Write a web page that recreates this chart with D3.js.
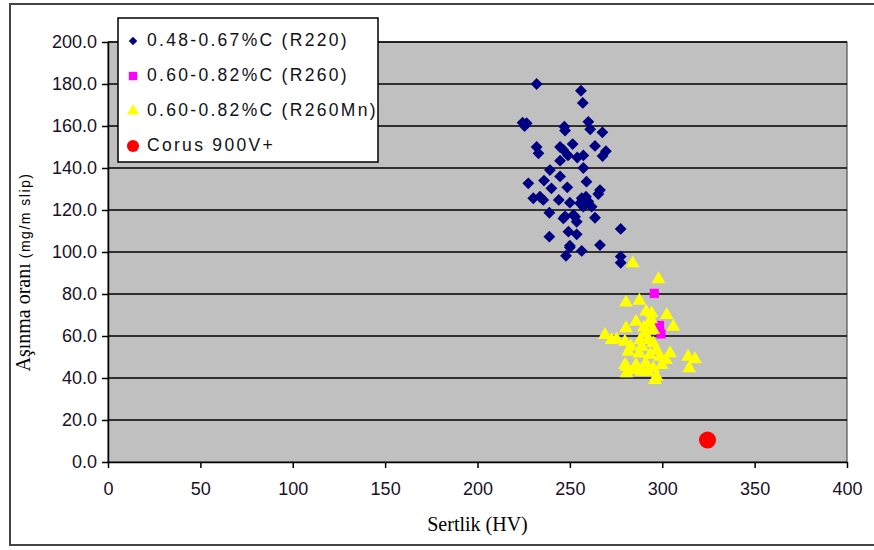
<!DOCTYPE html>
<html><head><meta charset="utf-8">
<script src="https://cdn.jsdelivr.net/npm/d3@7"></script>
<style>body{margin:0;background:#fff}svg{display:block}</style>
</head><body>
<svg id="c" width="874" height="550"></svg>
<script>
const seriesNames = ["0.48-0.67%C (R220)", "0.60-0.82%C (R260)", "0.60-0.82%C (R260Mn)", "Corus 900V+"];
const r220 = [[232,180],[256,176.8],[257,171],[224.4,161.6],[226.6,161.3],[225.5,160],[247,159.7],[247.4,157.8],[260,162],[261,158.4],[267.6,157],[232,150],[233,147],[244.7,150],[246.5,148.6],[251.5,151.4],[249,146],[254,145],[257.3,146],[263.6,150.5],[269.5,148],[267.7,145.7],[244.7,143.5],[257.3,140],[239.2,139],[244.7,136],[227.5,132.7],[236,134],[240,130.3],[248.6,130.8],[259,133.5],[266.3,129.5],[265.4,127.6],[230.2,125.6],[233.8,126.3],[235.6,124.8],[244,124.8],[250,123.5],[256.4,125.6],[258.7,126.3],[255.5,123.2],[260,124],[257.3,121.6],[261.8,121.6],[238.9,118.7],[247.4,117],[252.8,116.8],[263.6,116.3],[253.7,114.4],[249.2,109.7],[253.7,108.4],[238.9,107.3],[250,103],[256.4,100.5],[266.3,103.3],[247.9,98.2],[277.5,111],[277.5,97.8],[277.5,94.9],[246.5,116],[251.9,117.6],[250,102.2]];
const r260 = [[295.7,80.3],[298.5,65],[299.3,61]];
const r260mn = [[284,94.6],[298,87],[280.4,75.9],[287.6,76.8],[291.2,71.6],[294.3,70.8],[302.4,70],[285.8,66.8],[306,64.4],[293,66],[295.1,62.9],[290.7,61.3],[292.4,58.1],[280.4,63.7],[269,60.5],[272.6,58.1],[275.3,58.4],[279.8,57.3],[281.6,52.5],[288,58],[288.8,54.9],[287.6,51.7],[295.1,56.5],[296.9,53.3],[293.4,51],[298.8,50.1],[304.2,51.8],[302,48.6],[279.8,46.2],[285.8,46.2],[288.8,43],[280.7,42.2],[295.1,44.6],[296.9,40.6],[296,39],[299.7,46.2],[314,50.1],[317.7,48.9],[314.6,44.6],[292,43],[280.7,45.4],[285.3,43.8],[294,68],[290,64],[283,55],[291,47]];
const corus = [[324.5,10.5]];
const xTicks = [0,50,100,150,200,250,300,350,400];
const yTicks = [0,20,40,60,80,100,120,140,160,180,200];
const xTitle = "Sertlik (HV)";
const yTitleMain = "Aşınma oranı";
const yTitleUnit = "(mg/m slip)";

const svg = d3.select("#c");
const L=108, R=847, T=42, B=462;
const x = d3.scaleLinear().domain([0,400]).range([L,R]);
const y = d3.scaleLinear().domain([0,200]).range([B,T]);

// outer border
svg.append("path").attr("d","M874,4 H10 V545 H874").attr("fill","none").attr("stroke","#444").attr("stroke-width",2);

// plot background
svg.append("rect").attr("x",L).attr("y",T).attr("width",R-L).attr("height",B-T).attr("fill","#c0c0c0").attr("stroke","#333").attr("stroke-width",1);
// gridlines
svg.append("g").selectAll("line").data(yTicks.filter(d=>d>0)).join("line")
  .attr("x1",L).attr("x2",R).attr("y1",d=>y(d)).attr("y2",d=>y(d)).attr("stroke","#000").attr("stroke-width",1.5);

// axes
const gx = svg.append("g").attr("transform",`translate(0,${B})`)
  .call(d3.axisBottom(x).tickValues(xTicks).tickSize(6).tickPadding(14).tickSizeOuter(0));
const gy = svg.append("g").attr("transform",`translate(${L},0)`)
  .call(d3.axisLeft(y).tickValues(yTicks).tickFormat(d3.format(".1f")).tickSize(6).tickPadding(5).tickSizeOuter(0));
[gx,gy].forEach(g=>{
  g.selectAll("path,line").attr("stroke","#000").attr("stroke-width",1.5);
  g.selectAll("text").attr("font-family","Liberation Sans, Arial, sans-serif").attr("font-size",18).attr("fill","#1a1028");
});

// series
const sym = (type,size)=>d3.symbol().type(type).size(size)();
const plot = svg.append("g");
function drawSeries(data, type, size, fill, rot){
  plot.append("g").selectAll("path").data(data).join("path")
    .attr("d", sym(type,size))
    .attr("transform", d=>`translate(${x(d[0])},${y(d[1])})${rot?" rotate(45)":""}`)
    .attr("fill", fill);
}
drawSeries(r220, d3.symbolSquare, 70, "#000080", true);
drawSeries(r260, d3.symbolSquare, 85, "#ff00ff", false);
drawSeries(r260mn, d3.symbolTriangle, 82, "#ffff00", false);
drawSeries(corus, d3.symbolCircle, 230, "#ff0000", false);

// legend
const lg = svg.append("g");
lg.append("rect").attr("x",118).attr("y",18).attr("width",260).attr("height",144).attr("fill","#fff").attr("stroke","#000").attr("stroke-width",1.5);
const legItems = [
  {name:seriesNames[0], type:d3.symbolSquare, size:36, fill:"#000080", rot:true},
  {name:seriesNames[1], type:d3.symbolSquare, size:70, fill:"#ff00ff", rot:false},
  {name:seriesNames[2], type:d3.symbolTriangle, size:64, fill:"#ffff00", rot:false},
  {name:seriesNames[3], type:d3.symbolCircle, size:115, fill:"#ff0000", rot:false}
];
legItems.forEach((it,i)=>{
  const cy = 40 + i*35;
  lg.append("path").attr("d",sym(it.type,it.size)).attr("fill",it.fill)
    .attr("transform",`translate(133,${cy+1})${it.rot?" rotate(45)":""}`);
  lg.append("text").attr("x",147).attr("y",cy).attr("dy","0.36em")
    .attr("font-family","Liberation Sans, Arial, sans-serif").attr("font-size",17.5).attr("letter-spacing",2.3)
    .attr("fill","#101020").text(it.name);
});

// titles
svg.append("text").attr("x",(L+R)/2).attr("y",531).attr("text-anchor","middle")
  .attr("font-family","Liberation Serif, Times New Roman, serif").attr("font-size",20).attr("fill","#000").text(xTitle);
const yt = svg.append("text").attr("transform","translate(30,272) rotate(-90)").attr("text-anchor","middle").attr("fill","#000");
yt.append("tspan").attr("font-family","Liberation Serif, Times New Roman, serif").attr("font-size",20).text(yTitleMain+" ");
yt.append("tspan").attr("font-family","Liberation Sans, Arial, sans-serif").attr("font-size",14).attr("letter-spacing",1.5).text(yTitleUnit);
</script>
</body></html>
